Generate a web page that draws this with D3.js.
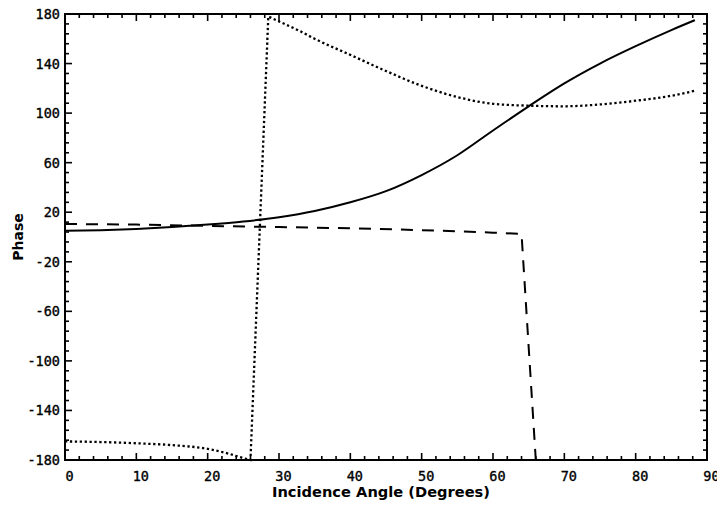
<!DOCTYPE html>
<meta charset="utf-8">
<style>
  body { margin: 0; background: #fff; }
  .lbl { font-family: "DejaVu Sans Mono", monospace; font-size: 13.5px; fill: #000; stroke: #000; stroke-width: 0.35; }
  .ttl { font-family: "DejaVu Sans", sans-serif; font-weight: bold; font-size: 14px; fill: #000; }
  .frame { fill: none; stroke: #000; stroke-width: 2; }
  .tk { stroke: #000; stroke-width: 1.6; }
</style>
<body>
<script src="https://d3js.org/d3.v7.min.js"></script>
<script>
// phase vs incidence angle
var solidAngle  = [0, 5, 10, 15, 20, 25, 30, 35, 40, 45, 50, 55, 60, 65, 70, 75, 80, 85, 88.3];
var solidPhase  = [5, 5.5, 6.5, 8, 10, 12.5, 16, 21, 28, 37, 50, 66, 86, 105.5, 124, 140, 154, 167, 175];

var dottedAngle = [0, 5, 10, 15, 20, 23, 25, 26, 28.5, 30, 33, 35, 40, 45, 50, 55, 60, 65, 70, 75, 80, 85, 88.3];
var dottedPhase = [-165, -165.5, -166.5, -168, -171, -175, -178.5, -180, 178, 174, 166, 160, 147, 134, 122, 113, 107.5, 106, 105.5, 107, 110, 114, 118];

var dashedAngle = [0, 10, 20, 30, 40, 50, 60, 64, 66, 70, 75, 80, 85, 88];
var dashedPhase = [10.5, 10, 9, 8, 7, 5.5, 3.5, 2.5, -180, -180, -180, -180, -180, -180];

var xTicks = [0, 10, 20, 30, 40, 50, 60, 70, 80, 90];
var yTicks = [-180, -140, -100, -60, -20, 20, 60, 100, 140, 180];

var width = 717, height = 506;
var plotL = 65, plotR = 707, plotT = 14, plotB = 460;

var x = d3.scaleLinear().domain([0, 90]).range([plotL, plotR]);
var y = d3.scaleLinear().domain([-180, 180]).range([plotB, plotT]);

var svg = d3.select("body").append("svg")
  .attr("width", width)
  .attr("height", height);

// minor/major ticks on all four sides, pointing inward
var xMinor = d3.range(0, 91, 2);
var yMinor = d3.range(-180, 181, 8);

var g = svg.append("g");
xMinor.forEach(function(v) {
  var len = (v % 10 == 0) ? 7 : 4;
  g.append("line").attr("class", "tk")
    .attr("x1", x(v)).attr("x2", x(v)).attr("y1", plotB).attr("y2", plotB - len);
  g.append("line").attr("class", "tk")
    .attr("x1", x(v)).attr("x2", x(v)).attr("y1", plotT).attr("y2", plotT + len);
});
yMinor.forEach(function(v) {
  var len = ((v + 180) % 40 == 0) ? 7 : 4;
  g.append("line").attr("class", "tk")
    .attr("x1", plotL).attr("x2", plotL + len).attr("y1", y(v)).attr("y2", y(v));
  g.append("line").attr("class", "tk")
    .attr("x1", plotR).attr("x2", plotR - len).attr("y1", y(v)).attr("y2", y(v));
});

svg.append("rect").attr("class", "frame")
  .attr("x", plotL).attr("y", plotT)
  .attr("width", plotR - plotL).attr("height", plotB - plotT);

// tick labels
svg.selectAll(".xl").data(xTicks).enter().append("text")
  .attr("class", "lbl")
  .attr("x", function(d) { return x(d) + 4.5; })
  .attr("y", 481)
  .attr("text-anchor", "middle")
  .text(function(d) { return d; });

svg.selectAll(".yl").data(yTicks).enter().append("text")
  .attr("class", "lbl")
  .attr("x", 60)
  .attr("y", function(d) { return y(d) + 5; })
  .attr("text-anchor", "end")
  .text(function(d) { return d; });

svg.append("text").attr("class", "ttl")
  .attr("x", 381).attr("y", 497)
  .attr("text-anchor", "middle")
  .attr("textLength", 218).attr("lengthAdjust", "spacingAndGlyphs")
  .text("Incidence Angle (Degrees)");

svg.append("text").attr("class", "ttl")
  .attr("transform", "translate(23,237) rotate(-90)")
  .attr("text-anchor", "middle")
  .text("Phase");

// curves: smooth pieces, straight jumps where the phase wraps
var line = d3.line()
  .x(function(d) { return x(d[0]); })
  .y(function(d) { return y(d[1]); })
  .curve(d3.curveMonotoneX);

function pathFor(angles, phases) {
  var pts = d3.zip(angles, phases);
  var pieces = [[pts[0]]];
  for (var i = 1; i < pts.length; i++) {
    if (Math.abs(pts[i][1] - pts[i - 1][1]) > 90) pieces.push([]);
    pieces[pieces.length - 1].push(pts[i]);
  }
  return pieces.map(function(p, i) {
    var s = p.length > 1 ? line(p) : "M" + x(p[0][0]) + "," + y(p[0][1]);
    return i ? s.replace(/^M/, "L") : s;
  }).join("");
}

svg.append("path")
  .attr("d", pathFor(solidAngle, solidPhase))
  .attr("fill", "none").attr("stroke", "#000").attr("stroke-width", 2);

svg.append("path")
  .attr("d", pathFor(dottedAngle, dottedPhase))
  .attr("fill", "none").attr("stroke", "#000").attr("stroke-width", 2.3)
  .attr("stroke-dasharray", "2.3,2.6");

svg.append("path")
  .attr("d", pathFor(dashedAngle, dashedPhase))
  .attr("fill", "none").attr("stroke", "#000").attr("stroke-width", 2)
  .attr("stroke-dasharray", "12,9");
</script>
